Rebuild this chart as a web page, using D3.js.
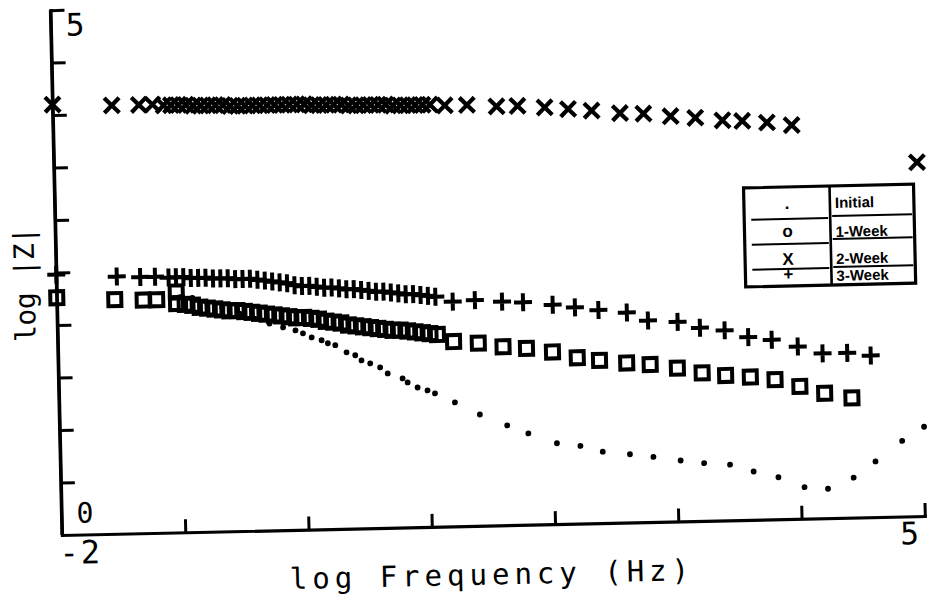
<!DOCTYPE html>
<html>
<head>
<meta charset="utf-8">
<script src="https://cdn.jsdelivr.net/npm/d3@7"></script>
<style>
  html, body { margin: 0; padding: 0; background: #fff; }
  svg { display: block; }
</style>
</head>
<body>
<svg id="chart" width="928" height="596"></svg>
<script>
// Impedance magnitude vs. frequency, log-log, four immersion times.

// Initial (dots)
const initialFreq = [-1.00, -0.90, -0.78, -0.66, -0.52, -0.40, -0.28, -0.17, -0.07, -0.01,
  0.06, 0.14, 0.19, 0.25, 0.34, 0.41, 0.46, 0.53, 0.61, 0.67, 0.79, 0.83, 0.91, 0.99, 1.05,
  1.21, 1.41, 1.63, 1.80, 2.03, 2.22, 2.40, 2.62, 2.81, 3.03, 3.22, 3.43, 3.62, 3.82, 4.03,
  4.22, 4.43, 4.61, 4.83, 5.01];
const initialZ = [2.24, 2.23, 2.18, 2.13, 2.07, 2.02, 1.97, 1.93, 1.90, 1.87,
  1.83, 1.80, 1.77, 1.75, 1.68, 1.65, 1.60, 1.57, 1.53, 1.47, 1.42, 1.38, 1.33, 1.30, 1.27,
  1.18, 1.06, 0.95, 0.87, 0.77, 0.74, 0.68, 0.65, 0.62, 0.58, 0.55, 0.53, 0.46, 0.40, 0.30,
  0.28, 0.38, 0.53, 0.72, 0.85];

// 1-Week (squares)
const week1Freq = [-2.00, -1.53, -1.30, -1.19, -1.03, -1.03,
  -0.96, -0.90, -0.84, -0.78, -0.72, -0.66, -0.60, -0.54, -0.48, -0.42, -0.36, -0.30,
  -0.24, -0.18, -0.12, -0.06, 0.00, 0.06, 0.12, 0.18, 0.24, 0.30, 0.36, 0.42, 0.48,
  0.54, 0.60, 0.66, 0.72, 0.78, 0.84, 0.90, 0.96, 1.02, 1.08,
  1.21, 1.41, 1.61, 1.80, 2.01, 2.21, 2.39, 2.61, 2.80, 3.02, 3.22, 3.41, 3.61, 3.81,
  4.01, 4.21, 4.43];
const week1Z = [2.26, 2.23, 2.22, 2.22, 2.29, 2.18,
  2.17, 2.16, 2.14, 2.13, 2.12, 2.11, 2.10, 2.10, 2.09, 2.08, 2.07, 2.06,
  2.05, 2.04, 2.03, 2.02, 2.02, 2.01, 2.00, 1.98, 1.97, 1.96, 1.94, 1.93, 1.92,
  1.91, 1.90, 1.89, 1.88, 1.88, 1.87, 1.86, 1.85, 1.84, 1.83,
  1.76, 1.74, 1.70, 1.68, 1.64, 1.58, 1.55, 1.52, 1.50, 1.46, 1.41, 1.38, 1.36, 1.33,
  1.26, 1.19, 1.14];

// 2-Week (crosses)
const week2Freq = [-2.00, -1.52, -1.30, -1.19,
  -1.10, -1.04, -0.98, -0.92, -0.86, -0.80, -0.74, -0.68, -0.62, -0.56, -0.50, -0.44,
  -0.38, -0.32, -0.26, -0.20, -0.14, -0.08, -0.02, 0.04, 0.10, 0.16, 0.22, 0.28, 0.34,
  0.40, 0.46, 0.52, 0.58, 0.64, 0.70, 0.76, 0.82, 0.88, 0.94, 1.00, 1.06,
  1.18, 1.36, 1.60, 1.77, 1.99, 2.18, 2.37, 2.60, 2.79, 3.01, 3.21, 3.43, 3.59, 3.79,
  3.99, 5.00];
const week2Z = [4.10, 4.08, 4.08, 4.08,
  4.07, 4.07, 4.07, 4.07, 4.06, 4.06, 4.06, 4.06, 4.06, 4.05, 4.05, 4.05,
  4.05, 4.05, 4.05, 4.05, 4.05, 4.05, 4.05, 4.05, 4.04, 4.04, 4.04, 4.04, 4.04,
  4.03, 4.03, 4.03, 4.03, 4.03, 4.03, 4.02, 4.02, 4.02, 4.02, 4.02, 4.02,
  4.01, 4.01, 3.99, 3.99, 3.97, 3.95, 3.93, 3.90, 3.89, 3.86, 3.84, 3.81, 3.80, 3.78,
  3.75, 3.37];

// 3-Week (plus signs)
const week3Freq = [-2.00, -1.51, -1.32, -1.20,
  -1.09, -1.03, -0.97, -0.91, -0.85, -0.79, -0.73, -0.67, -0.61, -0.55, -0.49, -0.43,
  -0.37, -0.31, -0.25, -0.19, -0.13, -0.07, -0.01, 0.05, 0.11, 0.17, 0.23, 0.29, 0.35,
  0.41, 0.47, 0.53, 0.59, 0.65, 0.71, 0.77, 0.83, 0.89, 0.95, 1.01, 1.07,
  1.21, 1.39, 1.61, 1.78, 2.02, 2.20, 2.39, 2.62, 2.79, 3.03, 3.21, 3.41, 3.60, 3.79,
  4.00, 4.20, 4.40, 4.59];
const week3Z = [2.48, 2.45, 2.44, 2.44,
  2.43, 2.43, 2.43, 2.42, 2.42, 2.42, 2.41, 2.41, 2.41, 2.40, 2.40, 2.40,
  2.39, 2.38, 2.37, 2.36, 2.35, 2.33, 2.32, 2.32, 2.31, 2.30, 2.30, 2.29, 2.28,
  2.28, 2.27, 2.26, 2.25, 2.25, 2.24, 2.23, 2.22, 2.22, 2.21, 2.20, 2.19,
  2.14, 2.15, 2.13, 2.12, 2.09, 2.06, 2.03, 2.00, 1.92, 1.90, 1.84, 1.81, 1.74, 1.71,
  1.64, 1.57, 1.57, 1.54];

// Axis extents and ticks
const xDomain = [-2, 5];
const yDomain = [0, 5];
const xTicks = [-1, 0, 1, 2, 3, 4, 5];
const yTicks = [0.5, 1, 1.5, 2, 2.5, 3, 3.5, 4, 4.5, 5];

// Legend entries
const legendSymbols = [".", "o", "X", "+"];
const legendLabels = ["Initial", "1-Week", "2-Week", "3-Week"];

const xLabel = "log Frequency (Hz)";
const yLabel = "log |Z|";

const svg = d3.select("#chart");
svg.append("rect").attr("width", 928).attr("height", 596).attr("fill", "#fff");

// The plotter sheet sits slightly askew; draw everything in a tilted frame
const g = svg.append("g").attr("transform", "translate(62,535) rotate(-1.26)");

const x = d3.scaleLinear().domain(xDomain).range([0, 863]);
const y = d3.scaleLinear().domain(yDomain).range([0, -525]);

const mono = "'DejaVu Sans Mono', monospace";

// Axes
const xAxis = g.append("g")
  .call(d3.axisBottom(x).tickValues(xTicks).tickSize(-13).tickSizeOuter(0).tickFormat(""));
const yAxis = g.append("g")
  .call(d3.axisLeft(y).tickValues(yTicks).tickSize(-14).tickSizeOuter(0).tickFormat(""));
[xAxis, yAxis].forEach(a => {
  a.select(".domain").attr("stroke", "#000").attr("stroke-width", 3.2).attr("stroke-linecap", "square");
  a.selectAll(".tick line").attr("stroke", "#000").attr("stroke-width", 3);
});
// close the corner at the origin
g.append("path").attr("d", `M${x(-2)},${y(0)}L${x(-2)},${y(5)}`)
  .attr("stroke", "#000").attr("stroke-width", 3.2);

// Tick labels at the axis ends
const tickLabel = (t, px, py, size) => g.append("text").text(t)
  .attr("x", px).attr("y", py).attr("font-family", mono).attr("font-size", size).attr("fill", "#000");
tickLabel("5", x(-2) + 15, y(5) + 26, 31);
tickLabel("0", x(-2) + 15, y(0) - 12, 28);
tickLabel("-2", x(-2) - 3, y(0) + 29, 32).attr("letter-spacing", 2);
tickLabel("5", x(5) - 25, y(0) + 28, 31);

// Axis titles
g.append("text").text(xLabel)
  .attr("x", 429).attr("y", 59).attr("text-anchor", "middle")
  .attr("font-family", mono).attr("font-size", 29).attr("letter-spacing", 5).attr("fill", "#000");
g.append("text").text(yLabel)
  .attr("transform", "translate(-22,-251) rotate(-90)")
  .attr("text-anchor", "middle")
  .attr("font-family", mono).attr("font-size", 28).attr("letter-spacing", -0.5).attr("fill", "#000");

// Data series
const zip = (f, z) => f.map((v, i) => ({ f: v, z: z[i] }));
const marks = g.append("g").attr("stroke", "#000").attr("fill", "none");

marks.selectAll("path.cross").data(zip(week2Freq, week2Z)).join("path")
  .attr("class", "cross")
  .attr("transform", d => `translate(${x(d.f)},${y(d.z)})`)
  .attr("d", "M-7.5,-7.5L7.5,7.5M-7.5,7.5L7.5,-7.5")
  .attr("stroke-width", 4.2);

marks.selectAll("rect.sq").data(zip(week1Freq, week1Z)).join("rect")
  .attr("class", "sq")
  .attr("x", d => x(d.f) - 6.5).attr("y", d => y(d.z) - 6.5)
  .attr("width", 13).attr("height", 13)
  .attr("stroke-width", 4);

marks.selectAll("path.plus").data(zip(week3Freq, week3Z)).join("path")
  .attr("class", "plus")
  .attr("transform", d => `translate(${x(d.f)},${y(d.z)})`)
  .attr("d", "M-9,0H9M0,-9V9")
  .attr("stroke-width", 4);

g.append("g").selectAll("circle").data(zip(initialFreq, initialZ)).join("circle")
  .attr("cx", d => x(d.f)).attr("cy", d => y(d.z)).attr("r", 2.9).attr("fill", "#000");

// Legend table
const lg = g.append("g").attr("transform", "translate(689,-332)");
lg.append("rect").attr("width", 170).attr("height", 99)
  .attr("fill", "#fff").attr("stroke", "#000").attr("stroke-width", 3.2);
lg.append("line").attr("x1", 86).attr("x2", 86).attr("y1", 0).attr("y2", 99)
  .attr("stroke", "#000").attr("stroke-width", 2.6);
[32, 57, 82].forEach(yy => lg.append("line").attr("x1", 7).attr("x2", 84)
  .attr("y1", yy).attr("y2", yy).attr("stroke", "#000").attr("stroke-width", 2));
[30, 53, 81].forEach(yy => lg.append("line").attr("x1", 88).attr("x2", 168)
  .attr("y1", yy).attr("y2", yy).attr("stroke", "#000").attr("stroke-width", 2));
const symBase = [22, 50, 78, 93];
const labBase = [22, 51, 78, 95];
lg.selectAll("text.sym").data(legendSymbols).join("text").attr("class", "sym")
  .text(d => d).attr("x", 43).attr("y", (d, i) => symBase[i])
  .attr("text-anchor", "middle").attr("font-family", "'Liberation Sans', Arial, sans-serif")
  .attr("font-weight", "bold").attr("font-size", 17).attr("fill", "#000");
lg.selectAll("text.lab").data(legendLabels).join("text").attr("class", "lab")
  .text(d => d).attr("x", 91).attr("y", (d, i) => labBase[i])
  .attr("font-family", "'Liberation Sans', Arial, sans-serif")
  .attr("font-weight", "bold").attr("font-size", 15).attr("fill", "#000");
</script>
</body>
</html>
